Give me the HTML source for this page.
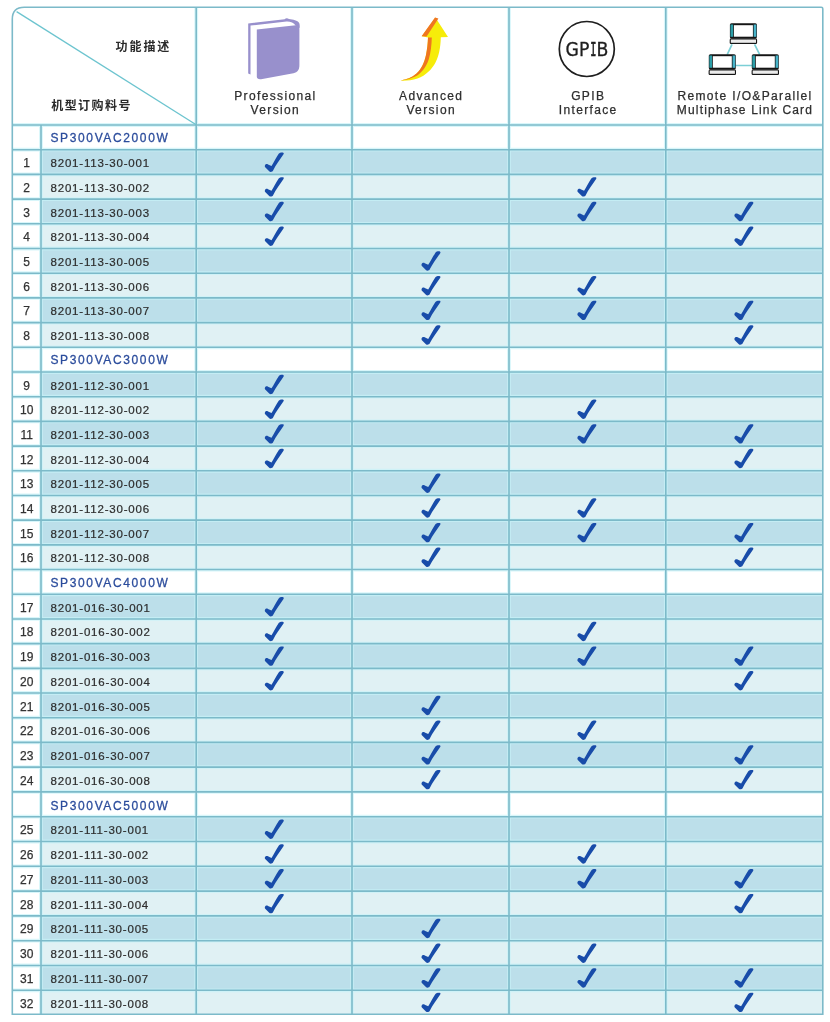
<!DOCTYPE html>
<html><head><meta charset="utf-8"><style>
html,body{margin:0;padding:0;background:#fff;}
body{width:830px;height:1022px;position:relative;overflow:hidden;font-family:"Liberation Sans",Arial,"Noto Sans CJK SC",sans-serif;}
svg.g{position:absolute;left:0;top:0;}
.sec,.idx,.pn,.hd,.cn{position:absolute;white-space:nowrap;}
.sec{left:50.5px;height:24.7px;line-height:24.7px;font-size:12px;color:#2b4c9c;letter-spacing:1.62px;-webkit-text-stroke:0.28px #2b4c9c;}
.idx{left:12.3px;width:28.7px;text-align:center;height:24.7px;line-height:24.7px;font-size:12px;color:#333;-webkit-text-stroke:0.25px #333;}
.pn{left:50.5px;height:24.7px;line-height:24.7px;font-size:11.5px;color:#2e2e2e;letter-spacing:0.8px;-webkit-text-stroke:0.22px #2e2e2e;}
.hd{font-size:12px;color:#2e2e2e;text-align:center;line-height:14px;letter-spacing:1.36px;padding-left:2.6px;box-sizing:border-box;-webkit-text-stroke:0.25px #2e2e2e;}
.cn{font-family:"Liberation Sans","Noto Sans CJK SC",sans-serif;font-size:12px;font-weight:700;color:#2a2a2a;line-height:15px;}
</style></head><body>
<svg class="g" width="830" height="1022" viewBox="0 0 830 1022">
<defs><path id="ck" d="M0.3 13.2 C0.9 11.8 2.4 11.4 3.4 12.2 L6.9 13.8 C9 10.4 11.6 5.6 14.1 1.6 C15 0.4 17.4 -0.1 18.6 0.4 C19.3 0.8 19.3 1.5 18.9 2.1 C15.4 7.4 11.2 12.8 8.5 18.2 C7.7 19.8 5.6 20.1 4.6 19 L0.6 15 C0.1 14.4 0.1 13.8 0.3 13.2 Z" fill="#184ca9"/></defs>
<rect x="41" y="149.7" width="781.8" height="24.7" fill="#bcdfea"/>
<rect x="41" y="174.4" width="781.8" height="24.7" fill="#e0f1f4"/>
<rect x="41" y="199.1" width="781.8" height="24.7" fill="#bcdfea"/>
<rect x="41" y="223.8" width="781.8" height="24.7" fill="#e0f1f4"/>
<rect x="41" y="248.5" width="781.8" height="24.7" fill="#bcdfea"/>
<rect x="41" y="273.2" width="781.8" height="24.7" fill="#e0f1f4"/>
<rect x="41" y="297.9" width="781.8" height="24.7" fill="#bcdfea"/>
<rect x="41" y="322.6" width="781.8" height="24.7" fill="#e0f1f4"/>
<rect x="41" y="372" width="781.8" height="24.69" fill="#bcdfea"/>
<rect x="41" y="396.69" width="781.8" height="24.69" fill="#e0f1f4"/>
<rect x="41" y="421.39" width="781.8" height="24.69" fill="#bcdfea"/>
<rect x="41" y="446.08" width="781.8" height="24.69" fill="#e0f1f4"/>
<rect x="41" y="470.77" width="781.8" height="24.69" fill="#bcdfea"/>
<rect x="41" y="495.47" width="781.8" height="24.69" fill="#e0f1f4"/>
<rect x="41" y="520.16" width="781.8" height="24.69" fill="#bcdfea"/>
<rect x="41" y="544.86" width="781.8" height="24.69" fill="#e0f1f4"/>
<rect x="41" y="594.24" width="781.8" height="24.69" fill="#bcdfea"/>
<rect x="41" y="618.94" width="781.8" height="24.69" fill="#e0f1f4"/>
<rect x="41" y="643.63" width="781.8" height="24.69" fill="#bcdfea"/>
<rect x="41" y="668.33" width="781.8" height="24.69" fill="#e0f1f4"/>
<rect x="41" y="693.02" width="781.8" height="24.69" fill="#bcdfea"/>
<rect x="41" y="717.71" width="781.8" height="24.69" fill="#e0f1f4"/>
<rect x="41" y="742.41" width="781.8" height="24.69" fill="#bcdfea"/>
<rect x="41" y="767.1" width="781.8" height="24.8" fill="#e0f1f4"/>
<rect x="41" y="816.7" width="781.8" height="24.8" fill="#bcdfea"/>
<rect x="41" y="841.5" width="781.8" height="24.8" fill="#e0f1f4"/>
<rect x="41" y="866.3" width="781.8" height="24.8" fill="#bcdfea"/>
<rect x="41" y="891.1" width="781.8" height="24.8" fill="#e0f1f4"/>
<rect x="41" y="915.9" width="781.8" height="24.8" fill="#bcdfea"/>
<rect x="41" y="940.7" width="781.8" height="24.8" fill="#e0f1f4"/>
<rect x="41" y="965.5" width="781.8" height="24.8" fill="#bcdfea"/>
<rect x="41" y="990.3" width="781.8" height="23.9" fill="#e0f1f4"/>
<use href="#ck" x="264.6" y="152.25"/>
<use href="#ck" x="264.6" y="176.95"/>
<use href="#ck" x="577.2" y="176.95"/>
<use href="#ck" x="264.6" y="201.65"/>
<use href="#ck" x="577.2" y="201.65"/>
<use href="#ck" x="734.2" y="201.65"/>
<use href="#ck" x="264.6" y="226.35"/>
<use href="#ck" x="734.2" y="226.35"/>
<use href="#ck" x="421.3" y="251.05"/>
<use href="#ck" x="421.3" y="275.75"/>
<use href="#ck" x="577.2" y="275.75"/>
<use href="#ck" x="421.3" y="300.45"/>
<use href="#ck" x="577.2" y="300.45"/>
<use href="#ck" x="734.2" y="300.45"/>
<use href="#ck" x="421.3" y="325.15"/>
<use href="#ck" x="734.2" y="325.15"/>
<use href="#ck" x="264.6" y="374.55"/>
<use href="#ck" x="264.6" y="399.24"/>
<use href="#ck" x="577.2" y="399.24"/>
<use href="#ck" x="264.6" y="423.93"/>
<use href="#ck" x="577.2" y="423.93"/>
<use href="#ck" x="734.2" y="423.93"/>
<use href="#ck" x="264.6" y="448.63"/>
<use href="#ck" x="734.2" y="448.63"/>
<use href="#ck" x="421.3" y="473.32"/>
<use href="#ck" x="421.3" y="498.02"/>
<use href="#ck" x="577.2" y="498.02"/>
<use href="#ck" x="421.3" y="522.71"/>
<use href="#ck" x="577.2" y="522.71"/>
<use href="#ck" x="734.2" y="522.71"/>
<use href="#ck" x="421.3" y="547.4"/>
<use href="#ck" x="734.2" y="547.4"/>
<use href="#ck" x="264.6" y="596.79"/>
<use href="#ck" x="264.6" y="621.48"/>
<use href="#ck" x="577.2" y="621.48"/>
<use href="#ck" x="264.6" y="646.18"/>
<use href="#ck" x="577.2" y="646.18"/>
<use href="#ck" x="734.2" y="646.18"/>
<use href="#ck" x="264.6" y="670.87"/>
<use href="#ck" x="734.2" y="670.87"/>
<use href="#ck" x="421.3" y="695.57"/>
<use href="#ck" x="421.3" y="720.26"/>
<use href="#ck" x="577.2" y="720.26"/>
<use href="#ck" x="421.3" y="744.95"/>
<use href="#ck" x="577.2" y="744.95"/>
<use href="#ck" x="734.2" y="744.95"/>
<use href="#ck" x="421.3" y="769.7"/>
<use href="#ck" x="734.2" y="769.7"/>
<use href="#ck" x="264.6" y="819.3"/>
<use href="#ck" x="264.6" y="844.1"/>
<use href="#ck" x="577.2" y="844.1"/>
<use href="#ck" x="264.6" y="868.9"/>
<use href="#ck" x="577.2" y="868.9"/>
<use href="#ck" x="734.2" y="868.9"/>
<use href="#ck" x="264.6" y="893.7"/>
<use href="#ck" x="734.2" y="893.7"/>
<use href="#ck" x="421.3" y="918.5"/>
<use href="#ck" x="421.3" y="943.3"/>
<use href="#ck" x="577.2" y="943.3"/>
<use href="#ck" x="421.3" y="968.1"/>
<use href="#ck" x="577.2" y="968.1"/>
<use href="#ck" x="734.2" y="968.1"/>
<use href="#ck" x="421.3" y="992.45"/>
<use href="#ck" x="734.2" y="992.45"/>
<path d="M12.3 125H822.8 M12.3 149.7H822.8 M12.3 174.4H822.8 M12.3 199.1H822.8 M12.3 223.8H822.8 M12.3 248.5H822.8 M12.3 273.2H822.8 M12.3 297.9H822.8 M12.3 322.6H822.8 M12.3 347.3H822.8 M12.3 372H822.8 M12.3 396.69H822.8 M12.3 421.39H822.8 M12.3 446.08H822.8 M12.3 470.77H822.8 M12.3 495.47H822.8 M12.3 520.16H822.8 M12.3 544.86H822.8 M12.3 569.55H822.8 M12.3 594.24H822.8 M12.3 618.94H822.8 M12.3 643.63H822.8 M12.3 668.33H822.8 M12.3 693.02H822.8 M12.3 717.71H822.8 M12.3 742.41H822.8 M12.3 767.1H822.8 M12.3 791.9H822.8 M12.3 816.7H822.8 M12.3 841.5H822.8 M12.3 866.3H822.8 M12.3 891.1H822.8 M12.3 915.9H822.8 M12.3 940.7H822.8 M12.3 965.5H822.8 M12.3 990.3H822.8 M41 124.8V1014.2 M196.2 7.2V1014.2 M352 7.2V1014.2 M509 7.2V1014.2 M665.8 7.2V1014.2" fill="none" stroke="#c8f2f8" stroke-width="3.8" stroke-opacity="0.7"/>
<path d="M12.3 125H822.8 M12.3 149.7H822.8 M12.3 174.4H822.8 M12.3 199.1H822.8 M12.3 223.8H822.8 M12.3 248.5H822.8 M12.3 273.2H822.8 M12.3 297.9H822.8 M12.3 322.6H822.8 M12.3 347.3H822.8 M12.3 372H822.8 M12.3 396.69H822.8 M12.3 421.39H822.8 M12.3 446.08H822.8 M12.3 470.77H822.8 M12.3 495.47H822.8 M12.3 520.16H822.8 M12.3 544.86H822.8 M12.3 569.55H822.8 M12.3 594.24H822.8 M12.3 618.94H822.8 M12.3 643.63H822.8 M12.3 668.33H822.8 M12.3 693.02H822.8 M12.3 717.71H822.8 M12.3 742.41H822.8 M12.3 767.1H822.8 M12.3 791.9H822.8 M12.3 816.7H822.8 M12.3 841.5H822.8 M12.3 866.3H822.8 M12.3 891.1H822.8 M12.3 915.9H822.8 M12.3 940.7H822.8 M12.3 965.5H822.8 M12.3 990.3H822.8 M41 124.8V1014.2 M196.2 7.2V1014.2 M352 7.2V1014.2 M509 7.2V1014.2 M665.8 7.2V1014.2" fill="none" stroke="#7cbac9" stroke-width="1.6"/>
<path d="M24.3 7.2 H821.3 Q822.8 7.2 822.8 8.7 V1014.2 H12.3 V19.2 Q12.3 7.2 24.3 7.2 Z" fill="none" stroke="#7cbac9" stroke-width="1.6"/>
<path d="M16.6 11.6L196.2 124.8" stroke="#6cc4cf" stroke-width="1.3"/>
<path d="M248.2 23.4 L284.6 19.2 C286 18 287.5 18.2 289 19 C293 19.6 297.6 20.4 299.2 23 C299.8 24.5 299.8 26 299.6 28 L295.5 25.6 C294 22.8 290 21.4 286.5 21.6 L250.5 25.6 L250.5 74.4 L248.2 73.4 Z" fill="#9890cc"/>
<path d="M256.8 29.6 L295.8 25.3 C298 25.1 299.4 26.2 299.4 28.4 L299.4 65 C299.4 70 297.5 72.2 293.5 73.2 L261 79.2 C258.4 79.6 256.8 78.4 256.8 76.5 Z" fill="#9890cc"/>
<path d="M421.8 36.2 L435.4 17.4 L448 37 L440.8 37.2 C440.6 48 438.5 57 435.5 62.5 C432 69 426 75.5 417.5 78.5 C412 80.3 405.5 80.9 400.4 80.6 C406 79.5 412 77.5 416.5 73.5 C421.5 69 424.5 62 426 55 C427.2 49 427.8 43 428 37.4 Z" fill="#f6ec0a"/>
<path d="M421.6 36.3 L435 17.4 L438.4 18.4 L426.6 36.6 Z" fill="#ef7620"/>
<path d="M428 37.4 L431.8 37.4 C431.6 45 430.7 53 428.7 59.5 C426.2 67 421.7 73 415.2 76.6 C410.7 79 405.5 80.2 400.4 80.6 C406 79.5 412 77.5 416.5 73.5 C421.5 69 424.5 62 426 55 C427.2 49 427.8 43 428 37.4 Z" fill="#ef7620"/>
<circle cx="586.8" cy="49" r="27.5" fill="none" stroke="#1e1e1e" stroke-width="1.7"/>
<g fill="#1e1e1e" stroke="#1e1e1e" stroke-width="0.3" font-size="19.2"><text x="565.5" y="55.8" font-family="DejaVu Sans Condensed, DejaVu Sans, sans-serif">GP</text><text x="590.2" y="55.8" font-family="DejaVu Sans Mono, monospace" stroke-width="0.6" textLength="6.2" lengthAdjust="spacingAndGlyphs">I</text><text x="596.6" y="55.8" font-family="DejaVu Sans Condensed, DejaVu Sans, sans-serif">B</text></g>
<path d="M732 44.4 L727.2 54.6 M754.6 44.4 L759.6 54.4 M735.5 65.5 H752.2" stroke="#7ccfd6" stroke-width="1.7" fill="none"/>
<rect x="729.9" y="23.2" width="27" height="15.5" rx="1.6" fill="#151515"/><rect x="730.45" y="24.5" width="2.7" height="12.3" fill="#2c9ea8"/><rect x="753.65" y="24.5" width="2.7" height="12.3" fill="#47b3c9"/><rect x="733.9" y="25.2" width="19" height="11.5" fill="#fff"/><rect x="729.7" y="38.6" width="27.4" height="5.4" rx="1.3" fill="#151515"/><rect x="730.8" y="39.5" width="25.2" height="3.3" fill="#ececec"/>
<rect x="708.8" y="54.2" width="27" height="15.5" rx="1.6" fill="#151515"/><rect x="709.35" y="55.5" width="2.7" height="12.3" fill="#2c9ea8"/><rect x="732.55" y="55.5" width="2.7" height="12.3" fill="#47b3c9"/><rect x="712.8" y="56.2" width="19" height="11.5" fill="#fff"/><rect x="708.6" y="69.6" width="27.4" height="5.4" rx="1.3" fill="#151515"/><rect x="709.7" y="70.5" width="25.2" height="3.3" fill="#ececec"/>
<rect x="751.8" y="54.2" width="27" height="15.5" rx="1.6" fill="#151515"/><rect x="752.35" y="55.5" width="2.7" height="12.3" fill="#2c9ea8"/><rect x="775.55" y="55.5" width="2.7" height="12.3" fill="#47b3c9"/><rect x="755.8" y="56.2" width="19" height="11.5" fill="#fff"/><rect x="751.6" y="69.6" width="27.4" height="5.4" rx="1.3" fill="#151515"/><rect x="752.7" y="70.5" width="25.2" height="3.3" fill="#ececec"/>
</svg>
<div class="sec" style="top:125.5px">SP300VAC2000W</div>
<div class="idx" style="top:151.2px">1</div>
<div class="pn" style="top:151.2px">8201-113-30-001</div>
<div class="idx" style="top:175.9px">2</div>
<div class="pn" style="top:175.9px">8201-113-30-002</div>
<div class="idx" style="top:200.6px">3</div>
<div class="pn" style="top:200.6px">8201-113-30-003</div>
<div class="idx" style="top:225.3px">4</div>
<div class="pn" style="top:225.3px">8201-113-30-004</div>
<div class="idx" style="top:250px">5</div>
<div class="pn" style="top:250px">8201-113-30-005</div>
<div class="idx" style="top:274.7px">6</div>
<div class="pn" style="top:274.7px">8201-113-30-006</div>
<div class="idx" style="top:299.4px">7</div>
<div class="pn" style="top:299.4px">8201-113-30-007</div>
<div class="idx" style="top:324.1px">8</div>
<div class="pn" style="top:324.1px">8201-113-30-008</div>
<div class="sec" style="top:348.3px">SP300VAC3000W</div>
<div class="idx" style="top:373.5px">9</div>
<div class="pn" style="top:373.5px">8201-112-30-001</div>
<div class="idx" style="top:398.19px">10</div>
<div class="pn" style="top:398.19px">8201-112-30-002</div>
<div class="idx" style="top:422.89px">11</div>
<div class="pn" style="top:422.89px">8201-112-30-003</div>
<div class="idx" style="top:447.58px">12</div>
<div class="pn" style="top:447.58px">8201-112-30-004</div>
<div class="idx" style="top:472.27px">13</div>
<div class="pn" style="top:472.27px">8201-112-30-005</div>
<div class="idx" style="top:496.97px">14</div>
<div class="pn" style="top:496.97px">8201-112-30-006</div>
<div class="idx" style="top:521.66px">15</div>
<div class="pn" style="top:521.66px">8201-112-30-007</div>
<div class="idx" style="top:546.36px">16</div>
<div class="pn" style="top:546.36px">8201-112-30-008</div>
<div class="sec" style="top:571.05px">SP300VAC4000W</div>
<div class="idx" style="top:595.74px">17</div>
<div class="pn" style="top:595.74px">8201-016-30-001</div>
<div class="idx" style="top:620.44px">18</div>
<div class="pn" style="top:620.44px">8201-016-30-002</div>
<div class="idx" style="top:645.13px">19</div>
<div class="pn" style="top:645.13px">8201-016-30-003</div>
<div class="idx" style="top:669.83px">20</div>
<div class="pn" style="top:669.83px">8201-016-30-004</div>
<div class="idx" style="top:694.52px">21</div>
<div class="pn" style="top:694.52px">8201-016-30-005</div>
<div class="idx" style="top:719.21px">22</div>
<div class="pn" style="top:719.21px">8201-016-30-006</div>
<div class="idx" style="top:743.91px">23</div>
<div class="pn" style="top:743.91px">8201-016-30-007</div>
<div class="idx" style="top:768.6px">24</div>
<div class="pn" style="top:768.6px">8201-016-30-008</div>
<div class="sec" style="top:794.2px">SP300VAC5000W</div>
<div class="idx" style="top:818.2px">25</div>
<div class="pn" style="top:818.2px">8201-111-30-001</div>
<div class="idx" style="top:843px">26</div>
<div class="pn" style="top:843px">8201-111-30-002</div>
<div class="idx" style="top:867.8px">27</div>
<div class="pn" style="top:867.8px">8201-111-30-003</div>
<div class="idx" style="top:892.6px">28</div>
<div class="pn" style="top:892.6px">8201-111-30-004</div>
<div class="idx" style="top:917.4px">29</div>
<div class="pn" style="top:917.4px">8201-111-30-005</div>
<div class="idx" style="top:942.2px">30</div>
<div class="pn" style="top:942.2px">8201-111-30-006</div>
<div class="idx" style="top:967px">31</div>
<div class="pn" style="top:967px">8201-111-30-007</div>
<div class="idx" style="top:991.8px">32</div>
<div class="pn" style="top:991.8px">8201-111-30-008</div>
<div class="cn" style="left:115.6px;top:39.6px;letter-spacing:1.9px;">功能描述</div>
<div class="cn" style="left:51.2px;top:99px;letter-spacing:1.45px;">机型订购料号</div>
<div class="hd" style="left:196.2px;width:155.8px;top:88.9px;">Professional<br>Version</div>
<div class="hd" style="left:352px;width:155.8px;top:88.9px;">Advanced<br>Version</div>
<div class="hd" style="left:509px;width:155.8px;top:88.9px;">GPIB<br>Interface</div>
<div class="hd" style="left:665.8px;width:155.8px;top:88.9px;">Remote I/O&amp;Parallel<br><span style="letter-spacing:1.18px">Multiphase Link Card</span></div>
</body></html>
